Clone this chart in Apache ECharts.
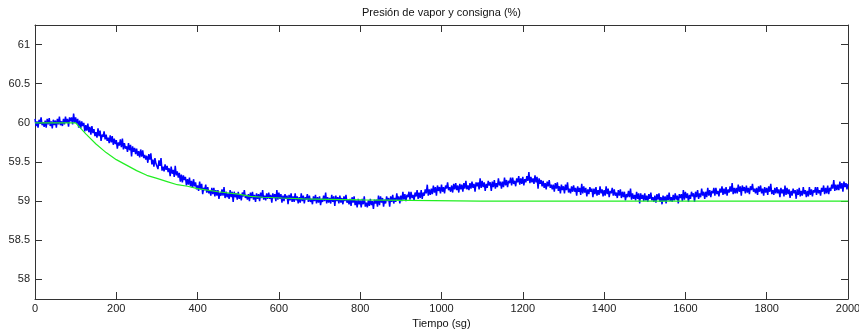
<!DOCTYPE html>
<html>
<head>
<meta charset="utf-8">
<title>Presión de vapor y consigna</title>
<script src="https://cdn.jsdelivr.net/npm/echarts@6/dist/echarts.min.js"></script>
<style>
  html, body { margin: 0; padding: 0; background: #fff; }
  #chart { width: 859px; height: 334px; }
</style>
</head>
<body>
<div id="chart"></div>
<script>
// Measured vapour pressure (%), one sample every 2.5 s from t = 0 s
const pressureStep = 2.5;
const pressure = [
  60.05,59.96,60.02,59.94,60.04,59.99,60.07,59.97,60.01,59.95, 60.03,59.94,60.05,59.98,60.06,59.96,60.02,59.93,60.04,59.97,
  60.03,59.94,60.05,59.98,60.08,59.97,60.02,59.96,60.05,59.98, 60.08,60.00,60.05,59.95,60.07,60.02,60.07,59.98,60.12,60.00,
  60.07,59.99,60.05,59.94,60.03,59.93,60.02,59.96,60.00,59.89, 59.97,59.90,59.99,59.88,59.95,59.85,59.96,59.87,59.92,59.83,
  59.88,59.81,59.93,59.83,59.90,59.77,59.85,59.82,59.89,59.79, 59.85,59.77,59.81,59.74,59.84,59.75,59.83,59.72,59.80,59.73,
  59.78,59.67,59.75,59.71,59.79,59.69,59.80,59.66,59.74,59.67, 59.70,59.63,59.74,59.65,59.72,59.57,59.70,59.63,59.68,59.60,
  59.67,59.58,59.64,59.56,59.66,59.57,59.65,59.55,59.59,59.53, 59.58,59.49,59.60,59.53,59.61,59.47,59.53,59.44,59.55,59.48,
  59.50,59.41,59.52,59.45,59.55,59.39,59.44,59.38,59.47,59.40, 59.45,59.37,59.42,59.32,59.44,59.35,59.40,59.31,59.45,59.33,
  59.38,59.30,59.36,59.25,59.34,59.24,59.33,59.27,59.31,59.20, 59.28,59.21,59.30,59.19,59.26,59.17,59.28,59.19,59.24,59.15,
  59.20,59.13,59.25,59.15,59.22,59.09,59.17,59.14,59.21,59.11, 59.18,59.10,59.14,59.07,59.17,59.09,59.17,59.06,59.14,59.07,
  59.14,59.03,59.11,59.07,59.15,59.07,59.18,59.04,59.12,59.05, 59.10,59.03,59.14,59.05,59.12,58.99,59.12,59.05,59.10,59.02,
  59.12,59.03,59.09,59.01,59.11,59.06,59.14,59.04,59.08,59.02, 59.09,59.00,59.11,59.04,59.12,59.02,59.08,58.99,59.10,59.03,
  59.09,59.00,59.11,59.04,59.14,59.02,59.07,59.01,59.10,59.03, 59.11,59.03,59.08,58.98,59.10,59.04,59.09,59.00,59.14,59.02,
  59.11,59.03,59.09,58.98,59.07,59.00,59.09,59.03,59.07,58.96, 59.08,59.01,59.10,58.99,59.06,58.99,59.10,59.01,59.06,58.97,
  59.05,58.98,59.10,59.00,59.07,58.97,59.05,59.02,59.09,58.99, 59.07,58.99,59.03,58.96,59.06,59.00,59.08,58.97,59.05,58.98,
  59.06,58.95,59.03,58.99,59.07,59.00,59.11,58.97,59.05,58.98, 59.04,58.97,59.08,58.99,59.06,58.94,59.07,59.00,59.05,58.97,
  59.07,58.98,59.04,58.96,59.06,59.00,59.08,58.98,59.02,58.96, 59.03,58.94,59.05,58.98,59.06,58.95,59.01,58.92,59.03,58.96,
  59.01,58.92,59.03,58.96,59.06,58.93,58.98,58.92,59.01,58.94, 59.03,58.95,59.00,58.90,59.02,58.97,59.02,58.93,59.07,58.95,
  59.06,58.98,59.04,58.93,59.02,58.97,59.06,59.00,59.04,58.93, 59.06,58.99,59.08,58.97,59.04,58.99,59.10,59.01,59.06,58.97,
  59.07,59.00,59.12,59.02,59.09,59.00,59.08,59.05,59.12,59.02, 59.12,59.04,59.08,59.01,59.11,59.06,59.14,59.03,59.11,59.04,
  59.14,59.03,59.11,59.07,59.15,59.10,59.21,59.07,59.15,59.08, 59.16,59.09,59.20,59.11,59.18,59.07,59.20,59.13,59.18,59.10,
  59.21,59.12,59.18,59.10,59.20,59.16,59.24,59.14,59.18,59.12, 59.20,59.11,59.22,59.15,59.23,59.14,59.20,59.11,59.22,59.15,
  59.21,59.12,59.23,59.16,59.26,59.15,59.20,59.14,59.23,59.16, 59.25,59.17,59.22,59.12,59.24,59.19,59.24,59.15,59.29,59.17,
  59.26,59.18,59.24,59.13,59.22,59.17,59.26,59.20,59.24,59.13, 59.25,59.18,59.27,59.16,59.23,59.18,59.29,59.20,59.25,59.16,
  59.25,59.18,59.30,59.20,59.27,59.18,59.26,59.23,59.30,59.20, 59.30,59.22,59.26,59.19,59.29,59.24,59.32,59.21,59.29,59.22,
  59.31,59.20,59.28,59.24,59.32,59.26,59.37,59.23,59.31,59.24, 59.29,59.22,59.33,59.24,59.31,59.16,59.29,59.22,59.27,59.19,
  59.26,59.17,59.23,59.15,59.25,59.19,59.27,59.17,59.21,59.15, 59.21,59.12,59.23,59.16,59.24,59.13,59.19,59.10,59.21,59.14,
  59.19,59.10,59.21,59.14,59.24,59.11,59.16,59.10,59.19,59.12, 59.20,59.12,59.17,59.07,59.19,59.12,59.17,59.08,59.22,59.10,
  59.19,59.11,59.17,59.06,59.15,59.09,59.18,59.12,59.16,59.05, 59.16,59.09,59.18,59.07,59.14,59.08,59.19,59.10,59.15,59.06,
  59.14,59.07,59.19,59.09,59.16,59.05,59.13,59.10,59.17,59.07, 59.15,59.07,59.11,59.04,59.14,59.07,59.15,59.04,59.12,59.05,
  59.12,59.01,59.09,59.05,59.13,59.05,59.16,59.02,59.10,59.03, 59.08,59.01,59.12,59.03,59.10,58.97,59.10,59.03,59.08,59.00,
  59.10,59.01,59.07,58.99,59.09,59.03,59.11,59.01,59.05,58.99, 59.07,58.98,59.09,59.02,59.10,58.99,59.05,58.96,59.07,59.00,
  59.06,58.97,59.08,59.01,59.11,59.00,59.05,58.99,59.08,59.01, 59.10,59.02,59.07,58.97,59.09,59.04,59.09,59.00,59.14,59.02,
  59.12,59.04,59.10,58.99,59.08,59.03,59.12,59.06,59.10,58.99, 59.12,59.05,59.14,59.03,59.10,59.05,59.16,59.07,59.12,59.03,
  59.12,59.05,59.17,59.07,59.14,59.05,59.13,59.10,59.17,59.07, 59.17,59.09,59.13,59.06,59.16,59.11,59.19,59.08,59.16,59.09,
  59.18,59.07,59.15,59.11,59.19,59.12,59.23,59.09,59.17,59.10, 59.17,59.10,59.21,59.12,59.19,59.07,59.20,59.13,59.18,59.10,
  59.20,59.11,59.17,59.09,59.19,59.14,59.22,59.12,59.16,59.10, 59.17,59.08,59.19,59.12,59.20,59.10,59.16,59.07,59.18,59.11,
  59.17,59.08,59.19,59.12,59.22,59.09,59.14,59.08,59.17,59.10, 59.18,59.10,59.15,59.05,59.17,59.10,59.15,59.06,59.20,59.08,
  59.17,59.09,59.15,59.04,59.13,59.07,59.16,59.10,59.14,59.03, 59.15,59.08,59.17,59.06,59.13,59.07,59.18,59.09,59.14,59.05,
  59.13,59.06,59.18,59.08,59.15,59.06,59.14,59.11,59.18,59.08, 59.18,59.10,59.14,59.07,59.17,59.12,59.20,59.09,59.17,59.10,
  59.20,59.09,59.17,59.13,59.21,59.16,59.27,59.13,59.21,59.14, 59.21,59.14,59.25,59.16,59.23,59.12,59.25,59.18,59.23,59.15,
  59.22
];

// Setpoint (%): breakpoints of the reference trajectory
const setpointTimes  = [0, 100, 125, 150, 175, 200, 225, 250, 275, 300, 325, 350, 375, 400, 450, 500, 530, 561, 608, 659, 758, 807, 1095, 2000];
const setpointValues = [60.00, 60.00, 59.86, 59.73, 59.62, 59.53, 59.46, 59.39, 59.33, 59.29, 59.25, 59.21, 59.19, 59.16, 59.12, 59.09, 59.06, 59.05, 59.04, 59.03, 59.02, 59.015, 59.00, 59.00];

// Axis ticks
const xTicks = [0, 200, 400, 600, 800, 1000, 1200, 1400, 1600, 1800, 2000];
const yTicks = [58, 58.5, 59, 59.5, 60, 60.5, 61];

const titleText = 'Presión de vapor y consigna (%)';
const xName = 'Tiempo (sg)';

const pressureData = pressure.map((v, i) => [i * pressureStep, v]);
const setpointData = setpointTimes.map((t, i) => [t, setpointValues[i]]);

const FONT = '"Liberation Sans", Arial, Helvetica, sans-serif';
const AXIS_COLOR = '#333';

const chart = echarts.init(document.getElementById('chart'), null, { renderer: 'canvas' });

function xAxisCfg(pos, labels) {
  return {
    type: 'value', position: pos, min: 0, max: 2000, interval: 200,
    axisLine: { show: true, onZero: false, lineStyle: { color: AXIS_COLOR, width: 1 } },
    axisTick: { show: true, inside: true, length: 7, customValues: xTicks, lineStyle: { color: AXIS_COLOR } },
    axisLabel: {
      show: labels, customValues: xTicks, formatter: v => String(v),
      fontFamily: FONT, fontSize: 11, color: '#222', margin: 4
    },
    splitLine: { show: false },
    name: labels ? xName : '', nameLocation: 'middle', nameGap: 19,
    nameTextStyle: { fontFamily: FONT, fontSize: 11, color: '#111' }
  };
}
function yAxisCfg(pos, labels) {
  return {
    type: 'value', position: pos, min: 57.75, max: 61.25, interval: 0.25,
    axisLine: { show: true, onZero: false, lineStyle: { color: AXIS_COLOR, width: 1 } },
    axisTick: { show: true, inside: true, length: 7, customValues: yTicks, lineStyle: { color: AXIS_COLOR } },
    axisLabel: { show: labels, customValues: yTicks, fontFamily: FONT, fontSize: 11, color: '#222', margin: 5 },
    splitLine: { show: false }
  };
}

chart.setOption({
  animation: false,
  backgroundColor: '#fff',
  grid: { left: 35, right: 11, top: 25, bottom: 35, containLabel: false, outerBoundsMode: 'none' },
  xAxis: [xAxisCfg('bottom', true), xAxisCfg('top', false)],
  yAxis: [yAxisCfg('left', true), yAxisCfg('right', false)],
  graphic: [{
    type: 'text', x: 441.5, y: 13,
    style: { text: titleText, textAlign: 'center', textVerticalAlign: 'middle', font: '11px ' + FONT, fill: '#111' }
  }],
  series: [
    {
      name: 'Presión', type: 'line', xAxisIndex: 0, yAxisIndex: 0,
      data: pressureData, showSymbol: false, symbol: 'none',
      lineStyle: { color: '#0000ff', width: 1.5 }, z: 2
    },
    {
      name: 'Consigna', type: 'line', xAxisIndex: 0, yAxisIndex: 0,
      data: setpointData, showSymbol: false, symbol: 'none', smooth: false,
      lineStyle: { color: '#22ee22', width: 1.2 }, z: 3
    }
  ]
});
</script>
</body>
</html>
